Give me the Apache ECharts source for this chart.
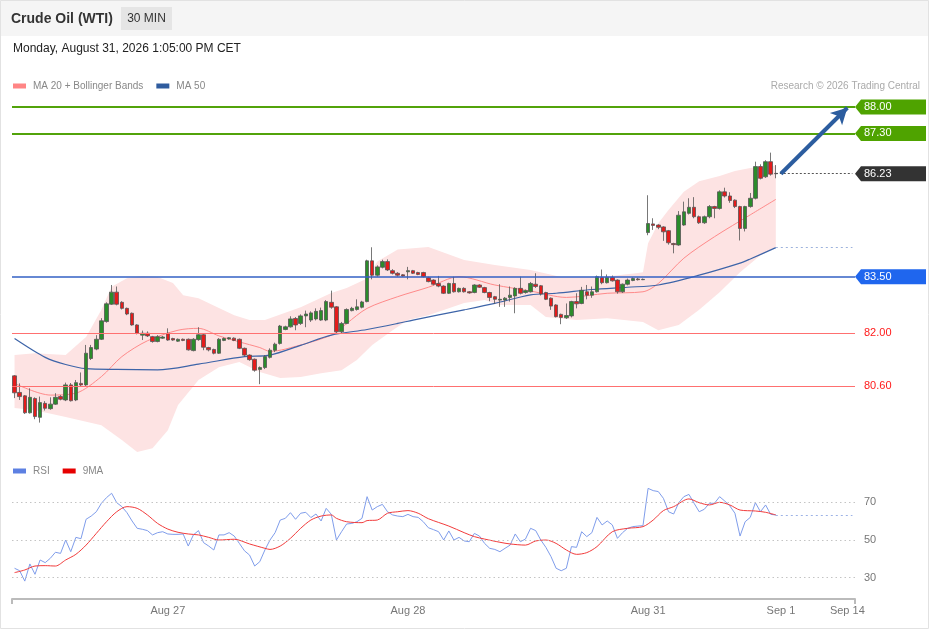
<!DOCTYPE html>
<html>
<head>
<meta charset="utf-8">
<title>Crude Oil (WTI)</title>
<script src="https://cdn.jsdelivr.net/npm/echarts@6/dist/echarts.min.js"></script>
<style>
html, body { margin: 0; padding: 0; background: #fff; }
#chart { width: 929px; height: 629px; }
</style>
</head>
<body>
<div id="chart"></div>
<script>
// 30 min bars, Aug 26 evening -> Aug 31 13:00 CET
var slotCount = 165;
var dayLabels = ['Aug 27', 'Aug 28', 'Aug 31', 'Sep 1', 'Sep 14'];
var dayLabelIdx = [30, 77, 124, 150, 163];

var candleOpen = [
  80.87,80.43,80.34,79.89,80.27,79.77,80.14,80.00,80.12,80.32,
  80.23,80.63,80.23,80.67,80.63,81.33,81.58,81.84,82.31,82.77,
  83.09,82.82,82.66,82.53,82.22,81.95,82.00,81.91,81.78,81.87,
  82.00,81.86,81.79,81.84,81.84,81.54,81.83,81.96,81.62,81.57,
  81.47,81.81,81.85,81.87,81.84,81.60,81.42,81.31,81.04,81.09,
  81.36,81.55,81.73,82.10,82.17,82.39,82.26,82.46,82.35,82.38,
  82.35,82.35,82.82,82.70,82.04,82.26,82.60,82.63,82.69,82.84,
  83.92,83.54,83.75,83.90,83.66,83.59,83.55,83.63,83.66,83.61,
  83.61,83.47,83.41,83.32,83.25,83.06,83.32,83.10,83.19,83.10,
  83.08,83.28,83.21,83.08,82.97,82.88,82.88,82.95,82.99,83.19,
  83.08,83.10,83.30,83.26,83.08,82.93,82.75,82.50,82.41,82.46,
  82.84,82.79,83.10,83.01,83.10,83.48,83.34,83.48,83.41,83.10,
  83.30,83.40,83.44,83.42,84.67,84.90,84.87,84.82,84.72,84.38,
  84.34,84.87,85.18,85.34,85.09,84.93,85.09,85.36,85.31,85.75,
  85.64,85.53,85.36,84.78,85.36,85.58,86.42,86.15,86.55,86.24
];
var candleClose = [
  80.42,80.32,79.89,80.30,79.79,80.16,80.01,80.12,80.30,80.25,
  80.63,80.21,80.69,80.63,81.47,81.62,81.84,82.33,82.78,83.09,
  82.77,82.66,82.51,82.22,82.00,82.00,81.93,81.78,81.91,81.90,
  81.82,81.82,81.84,81.81,81.56,81.84,81.96,81.63,81.56,81.47,
  81.84,81.86,81.88,81.81,81.60,81.42,81.30,81.02,81.09,81.38,
  81.55,81.71,82.19,82.17,82.38,82.22,82.46,82.51,82.54,82.58,
  82.60,82.84,82.69,82.04,82.26,82.63,82.66,82.70,82.83,83.92,
  83.54,83.76,83.90,83.68,83.59,83.54,83.52,83.66,83.59,83.56,
  83.50,83.37,83.30,83.25,83.06,83.32,83.10,83.19,83.10,83.07,
  83.28,83.22,83.08,82.95,82.90,82.90,82.93,83.01,83.19,83.06,
  83.13,83.32,83.24,83.04,82.90,82.72,82.44,82.42,82.47,82.84,
  82.78,83.14,83.01,83.10,83.50,83.34,83.48,83.39,83.10,83.30,
  83.41,83.45,83.42,83.43,84.91,84.86,84.81,84.69,84.40,84.35,
  85.13,85.22,85.34,85.09,84.93,85.09,85.36,85.31,85.75,85.64,
  85.52,85.36,84.78,85.36,85.58,86.42,86.11,86.55,86.22,86.23
];
var candleLow = [
  80.28,80.23,79.86,79.87,79.72,79.63,79.95,79.97,80.10,80.22,
  80.20,80.19,80.20,80.60,80.60,81.29,81.55,81.82,82.28,82.75,
  82.74,82.63,82.48,82.20,81.97,81.82,81.90,81.75,81.76,81.85,
  81.80,81.80,81.77,81.79,81.54,81.52,81.80,81.55,81.52,81.44,
  81.45,81.79,81.83,81.79,81.58,81.38,81.27,80.98,80.65,81.05,
  81.33,81.50,81.70,82.08,82.15,82.08,82.22,82.16,82.30,82.34,
  82.33,82.32,82.65,82.00,82.00,82.24,82.58,82.60,82.66,82.82,
  83.43,83.50,83.72,83.65,83.56,83.50,83.50,83.43,83.57,83.54,
  83.48,83.35,83.27,83.22,83.04,83.04,83.08,83.08,83.08,83.05,
  83.06,83.20,83.06,82.85,82.78,82.70,82.70,82.84,82.53,83.03,
  83.05,83.08,83.20,83.00,82.88,82.62,82.42,82.24,82.38,82.42,
  82.66,82.77,82.90,82.94,83.08,83.30,83.32,83.37,83.05,83.07,
  83.27,83.38,83.40,83.41,84.60,84.74,84.76,84.45,84.35,84.12,
  84.32,84.85,85.15,85.05,84.90,84.90,85.05,85.05,85.28,85.60,
  85.46,85.32,84.46,84.70,85.33,85.55,86.08,86.12,86.18,86.11
];
var candleHigh = [
  80.89,80.67,80.36,80.54,80.30,80.32,80.20,80.30,80.41,80.36,
  80.69,80.68,80.76,80.96,81.69,81.69,81.95,82.40,82.82,83.28,
  83.24,82.85,82.68,82.55,82.24,82.07,82.05,81.93,81.95,81.93,
  82.13,81.88,81.86,81.86,81.86,81.87,82.16,81.98,81.64,81.59,
  81.87,81.89,81.90,81.89,81.86,81.62,81.44,81.33,81.12,81.42,
  81.60,81.75,82.22,82.20,82.45,82.43,82.50,82.60,82.58,82.66,
  82.68,82.88,83.13,82.72,82.30,82.66,82.70,82.90,82.86,83.95,
  84.28,83.80,83.95,83.96,83.70,83.62,83.57,83.76,83.68,83.63,
  83.63,83.50,83.43,83.52,83.27,83.34,83.50,83.21,83.22,83.12,
  83.30,83.30,83.23,83.10,82.99,83.30,82.96,83.24,83.22,83.50,
  83.16,83.36,83.59,83.28,83.10,82.95,82.77,82.52,82.79,82.86,
  83.06,83.23,83.28,83.24,83.53,83.69,83.56,83.53,83.43,83.32,
  83.45,83.48,83.47,83.45,85.66,85.05,84.89,84.84,84.74,84.40,
  85.24,85.49,85.58,85.61,85.12,85.12,85.40,85.38,85.79,85.86,
  85.74,85.55,85.38,85.38,85.72,86.55,86.48,86.59,86.79,86.46
];

// MA 20, Bollinger Bands and MA 50, sampled along the curves
var ma20Idx = [0,7,12,17,21,26,32,36,40,44,48,50,53,62,65,69,75,81,87,94,101,108,116,123,126,131,137,144,149];
var ma20Val = [80.67,80.36,80.41,80.85,81.38,81.80,82.08,82.13,81.93,81.77,81.62,81.52,81.58,81.95,82.26,82.66,82.97,83.22,83.50,83.28,83.12,82.95,83.06,83.10,83.32,83.99,84.56,85.14,85.55];
var ma50Idx = [0,6,10,14,20,28,36,45,50,56,62,69,75,78,88,94,101,106,113,120,126,134,142,144,149];
var ma50Val = [81.86,81.36,81.17,81.06,81.04,81.03,81.18,81.38,81.42,81.68,81.95,82.10,82.26,82.35,82.62,82.79,83.02,83.06,83.16,83.22,83.28,83.54,83.86,83.97,84.27];
var bbUpIdx = [0,4,10,14,17,19,22,25,28,31,33,36,40,43,46,49,56,62,65,69,71,75,81,88,94,101,107,115,122,123,124,126,128,131,134,138,141,144,149];
var bbUpVal = [81.42,81.47,81.42,81.90,82.62,83.23,83.46,83.52,83.49,83.33,83.01,82.93,82.67,82.48,82.35,82.35,82.69,83.07,83.20,83.45,83.90,84.22,84.29,83.94,83.81,83.68,83.49,83.49,83.60,83.62,84.39,84.92,85.27,85.75,86.03,86.17,86.30,86.38,86.45];
var bbLoIdx = [0,4,10,17,21,24,27,30,32,36,40,44,48,52,56,60,64,67,70,74,77,81,88,92,95,101,104,110,116,123,126,130,134,138,142,146,149];
var bbLoVal = [80.02,79.96,79.78,79.56,79.17,78.85,78.95,79.43,80.10,80.76,81.10,81.24,80.97,80.81,80.84,80.94,81.02,81.29,81.69,82.08,82.35,82.48,82.80,82.88,82.75,82.75,82.43,82.35,82.40,82.30,82.08,82.22,82.62,83.09,83.62,84.07,84.29];

// RSI per bar, and its 9MA sampled
var rsiValues = [
  35.0,33.7,28.2,37.3,31.8,39.4,38.0,40.3,43.5,42.9,
  50.0,43.8,51.4,50.7,61.0,62.7,65.0,69.5,72.5,74.8,
  69.8,67.7,64.5,60.1,56.2,55.7,55.0,52.7,53.9,54.4,
  53.2,53.0,53.0,53.2,46.8,52.7,55.0,48.6,46.8,44.7,
  52.7,52.7,53.9,52.1,48.2,44.3,42.0,36.2,38.5,44.7,
  50.0,53.9,60.6,61.5,64.5,61.0,64.2,64.7,61.9,63.8,
  60.1,66.8,63.6,50.0,54.4,58.5,58.8,59.7,61.5,73.0,
  65.9,67.7,68.9,65.0,63.3,62.7,62.4,63.6,62.4,62.0,
  59.7,56.5,55.5,54.4,50.0,54.8,50.0,51.4,49.5,49.1,
  53.5,52.1,48.2,45.6,45.0,43.8,45.6,47.3,53.2,49.1,
  50.5,56.2,55.0,50.0,46.1,41.2,35.0,33.7,35.0,46.5,
  46.1,54.4,51.8,53.9,62.0,58.0,60.1,58.0,50.9,53.9,
  56.2,57.1,57.4,57.6,77.4,76.2,75.7,72.1,65.0,63.8,
  69.8,73.0,74.2,69.5,65.0,66.3,69.5,69.5,73.0,70.7,
  68.1,64.2,52.1,59.7,62.0,69.8,65.0,68.6,63.6,63.3
];
var ma9Idx = [0,2,4,6,8,10,12,14,16,18,20,22,24,26,28,30,32,34,36,38,40,43,46,49,50,52,54,56,58,60,62,63,65,68,69,71,73,75,77,79,81,85,88,90,92,95,97,100,102,104,106,108,110,112,114,117,120,123,125,127,129,132,134,136,138,140,142,145,147,149];
var ma9Val = [32.7,34.1,36.2,36.4,36.2,39.4,42.4,47.3,53.5,59.7,65.0,67.7,66.8,63.3,58.8,55.8,54.1,53.2,52.7,51.4,50.0,50.4,47.9,45.6,45.0,46.8,50.9,56.2,60.6,62.7,63.3,61.5,59.7,59.2,60.3,60.6,64.2,65.0,65.6,64.2,61.3,57.4,53.9,51.8,50.5,48.8,47.9,47.3,49.5,50.0,48.2,44.7,42.4,43.3,46.5,54.4,56.2,57.1,60.6,65.6,67.7,71.8,69.8,68.6,70.0,68.6,65.9,65.4,64.7,63.3];
var rsiLevels = [70, 50, 30];

// key levels on the right
var tagPrices = [88.00, 87.30, 86.23, 83.50, 82.00, 80.60];
var tagFill = ['#4fa300', '#4fa300', '#333333', '#1f66ee', null, null];
var tagInk = ['#fff', '#fff', '#fff', '#fff', '#ff1a1a', '#ff1a1a'];
var lastPrice = 86.23;
var targetPrice = 88.00;

var FONT = '"Liberation Sans", Arial, Helvetica, sans-serif';

var cats = [];
for (var i = 0; i < slotCount; i++) cats.push(String(i));
var labelAt = {};
dayLabelIdx.forEach(function (d, k) { labelAt[d] = dayLabels[k]; });

function pairs(idx, val) {
  return idx.map(function (x, k) { return [x, val[k]]; });
}

var candles = candleOpen.map(function (o, k) {
  return [o, candleClose[k], candleLow[k], candleHigh[k]];
});
var lastIdx = candleOpen.length - 1;
var endIdx = slotCount - 1;
var lastMa50 = ma50Val[ma50Val.length - 1];
var lastRsi = rsiValues[rsiValues.length - 1];

function renderBand(params, api) {
  if (params.dataIndex !== 0) return null;
  var pts = [];
  for (var k = 0; k < bbUpIdx.length; k++) pts.push(api.coord([bbUpIdx[k], bbUpVal[k]]));
  for (var j = bbLoIdx.length - 1; j >= 0; j--) pts.push(api.coord([bbLoIdx[j], bbLoVal[j]]));
  return { type: 'polygon', shape: { points: pts }, style: { fill: '#fde3e3' } };
}

function renderTag(params, api) {
  var k = params.dataIndex;
  var y = api.coord([0, api.value(1)])[1];
  var x0 = params.coordSys.x + params.coordSys.width;
  var kids = [];
  if (tagFill[k]) {
    kids.push({
      type: 'polygon',
      shape: { points: [[x0, y], [x0 + 6, y - 7.5], [x0 + 71, y - 7.5], [x0 + 71, y + 7.5], [x0 + 6, y + 7.5]] },
      style: { fill: tagFill[k] }
    });
  }
  kids.push({
    type: 'text', x: x0 + 9, y: y,
    style: { text: tagPrices[k].toFixed(2), fill: tagInk[k], fontSize: 11, fontFamily: FONT, verticalAlign: 'middle', align: 'left' }
  });
  return { type: 'group', children: kids };
}

var greenLine = { color: '#52a30a', width: 2, type: 'solid' };
var redLine = { color: '#ff7070', width: 1, type: 'solid' };

var chart = echarts.init(document.getElementById('chart'));

var option = {
  animation: false,
  backgroundColor: '#fff',
  textStyle: { fontFamily: FONT },
  graphic: [
    { type: 'rect', shape: { x: 0, y: 0, width: 929, height: 36 }, style: { fill: '#f5f5f5' }, silent: true },
    { type: 'rect', shape: { x: 0.5, y: 0.5, width: 928, height: 628 }, style: { fill: 'none', stroke: '#e2e2e2' }, silent: true },
    { type: 'text', x: 11, y: 19, style: { text: 'Crude Oil (WTI)', fontSize: 14, fontWeight: 'bold', fill: '#333', fontFamily: FONT, verticalAlign: 'middle' } },
    { type: 'rect', shape: { x: 121, y: 7, width: 51, height: 23 }, style: { fill: '#e5e5e5' } },
    { type: 'text', x: 146.5, y: 18.5, style: { text: '30 MIN', fontSize: 12, fill: '#333', fontFamily: FONT, align: 'center', verticalAlign: 'middle' } },
    { type: 'text', x: 13, y: 48.5, style: { text: 'Monday, August 31, 2026 1:05:00 PM CET', fontSize: 12, fill: '#222', fontFamily: FONT, verticalAlign: 'middle' } },
    { type: 'text', x: 920, y: 86, style: { text: 'Research \u00a9 2026 Trading Central', fontSize: 10, fill: '#aaa', fontFamily: FONT, align: 'right', verticalAlign: 'middle' } }
  ],
  legend: [
    {
      data: ['MA 20 + Bollinger Bands', 'MA 50'],
      left: 13, top: 81, padding: 0, icon: 'rect', itemWidth: 13, itemHeight: 5, itemGap: 13,
      selectedMode: false, textStyle: { fontSize: 10, color: '#888', padding: [0, 0, 0, 2] }
    },
    {
      data: ['RSI', '9MA'],
      left: 13, top: 466, padding: 0, icon: 'rect', itemWidth: 13, itemHeight: 5, itemGap: 13,
      selectedMode: false, textStyle: { fontSize: 10, color: '#888', padding: [0, 0, 0, 2] }
    }
  ],
  grid: [
    { left: 12, width: 843, top: 95.7, height: 358.2 },
    { left: 12, width: 843, top: 479.7, height: 119.3 }
  ],
  xAxis: [
    { gridIndex: 0, type: 'category', data: cats, boundaryGap: true, show: false },
    {
      gridIndex: 1, type: 'category', data: cats, boundaryGap: true, position: 'bottom',
      axisLine: { lineStyle: { color: '#bbb', width: 2 } },
      axisTick: { show: false },
      axisLabel: {
        interval: 0, margin: 6, color: '#777', fontSize: 11,
        formatter: function (v, idx) { return labelAt[idx] || ''; }
      },
      splitLine: { show: false }
    },
    {
      gridIndex: 1, type: 'value', min: 0, max: 1, interval: 1, position: 'bottom',
      axisLine: { show: false },
      axisTick: { show: true, length: 5, lineStyle: { color: '#bbb', width: 2 } },
      axisLabel: { show: false }, splitLine: { show: false }
    }
  ],
  yAxis: [
    { gridIndex: 0, type: 'value', min: 78.8, max: 88.3, show: false },
    { gridIndex: 1, type: 'value', min: 18.7, max: 82, show: false }
  ],
  series: [
    {
      type: 'custom', name: 'band', xAxisIndex: 0, yAxisIndex: 0, z: 1, silent: true,
      renderItem: renderBand,
      data: pairs(bbUpIdx, bbUpVal),
      encode: { x: 0, y: 1 }
    },
    {
      type: 'line', name: 'MA 20 + Bollinger Bands', xAxisIndex: 0, yAxisIndex: 0, z: 2,
      data: pairs(ma20Idx, ma20Val), smooth: 0.3, symbol: 'none',
      color: '#ff8585', lineStyle: { color: '#ff8a8a', width: 1 }
    },
    {
      type: 'line', name: 'MA 50', xAxisIndex: 0, yAxisIndex: 0, z: 2,
      data: pairs(ma50Idx, ma50Val), smooth: 0.3, symbol: 'none',
      color: '#2f5c9e', lineStyle: { color: '#3d64a8', width: 1.2 },
      markLine: {
        silent: true, symbol: ['none', 'none'], label: { show: false },
        data: [[
          { coord: [lastIdx, lastMa50], lineStyle: { color: '#9cb2dc', width: 1.2, type: [2, 3] } },
          { coord: [endIdx, lastMa50] }
        ]]
      }
    },
    {
      type: 'candlestick', name: 'WTI', xAxisIndex: 0, yAxisIndex: 0, z: 3,
      barWidth: 4,
      data: candles,
      itemStyle: {
        color: '#2b8c2b', color0: '#e41b1b',
        borderColor: '#555', borderColor0: '#555', borderWidth: 0.8
      },
      markLine: {
        silent: true, symbol: ['none', 'none'], label: { show: false }, z: 4,
        data: [
          { yAxis: tagPrices[0], lineStyle: greenLine },
          { yAxis: tagPrices[1], lineStyle: greenLine },
          { yAxis: tagPrices[3], lineStyle: { color: '#3360c4', width: 1.5, type: 'solid' } },
          { yAxis: tagPrices[4], lineStyle: redLine },
          { yAxis: tagPrices[5], lineStyle: redLine },
          [
            { coord: [lastIdx, lastPrice], lineStyle: { color: '#555', width: 1, type: [2, 2] } },
            { coord: [endIdx, lastPrice] }
          ],
          [
            { coord: [lastIdx + 1, lastPrice], symbol: 'none', lineStyle: { color: '#2c5d9f', width: 4, type: 'solid' } },
            { coord: [endIdx - 1, targetPrice - 0.02], symbol: 'arrow', symbolSize: [13, 16] }
          ]
        ]
      }
    },
    {
      type: 'custom', name: 'tags', xAxisIndex: 0, yAxisIndex: 0, z: 5, silent: true,
      renderItem: renderTag,
      data: tagPrices.map(function (p) { return [0, p]; }),
      encode: { x: 0, y: 1 }
    },
    {
      type: 'line', name: 'RSI', xAxisIndex: 1, yAxisIndex: 1, z: 3,
      data: rsiValues, symbol: 'none',
      color: '#5d80e2', lineStyle: { color: '#7f9deb', width: 1 },
      markLine: {
        silent: true, symbol: ['none', 'none'],
        label: { show: true, position: 'end', distance: 9, color: '#777', fontSize: 11, formatter: '{c}' },
        lineStyle: { color: '#c4c4c4', width: 1, type: [1.5, 3] },
        data: rsiLevels.map(function (v) { return { yAxis: v }; }).concat([[
          { coord: [lastIdx, lastRsi], label: { show: false }, lineStyle: { color: '#9cb2e6', width: 1, type: [2, 3] } },
          { coord: [endIdx, lastRsi], label: { show: false } }
        ]])
      }
    },
    {
      type: 'line', name: '9MA', xAxisIndex: 1, yAxisIndex: 1, z: 4,
      data: pairs(ma9Idx, ma9Val), smooth: 0.3, symbol: 'none',
      color: '#e60000', lineStyle: { color: '#f23b3b', width: 1 }
    }
  ]
};

chart.setOption(option);
</script>
</body>
</html>
